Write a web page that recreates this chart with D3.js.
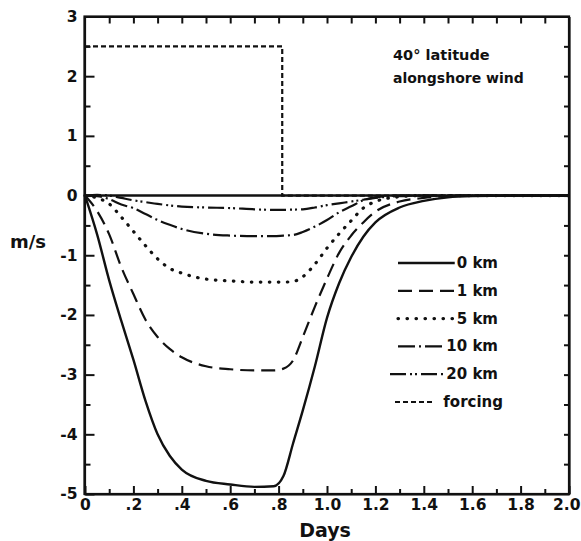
<!DOCTYPE html>
<html>
<head>
<meta charset="utf-8">
<script src="https://cdn.jsdelivr.net/npm/d3@7"></script>
<style>
  html, body { margin: 0; padding: 0; background: #fff; }
  svg { display: block; }
  text { font-family: "DejaVu Sans", sans-serif; fill: #111; }
</style>
</head>
<body>
<svg id="chart" width="581" height="541"></svg>
<script>
// ---- data ----
const days = [0,0.05,0.1,0.15,0.2,0.25,0.3,0.35,0.4,0.5,0.6,0.7,0.78,0.82,0.86,0.9,0.95,1.0,1.05,1.1,1.15,1.2,1.3,1.4,1.5,1.6,1.8,2.0];
const km0  = [0,-0.65,-1.42,-2.1,-2.75,-3.44,-4.0,-4.36,-4.59,-4.78,-4.84,-4.88,-4.87,-4.7,-4.15,-3.6,-2.86,-2.05,-1.47,-1.03,-0.69,-0.45,-0.2,-0.09,-0.03,-0.01,0,0];
const km1  = [0,-0.26,-0.65,-1.2,-1.65,-2.08,-2.37,-2.57,-2.71,-2.86,-2.91,-2.93,-2.93,-2.9,-2.76,-2.37,-1.86,-1.39,-0.96,-0.67,-0.45,-0.27,-0.1,-0.04,-0.01,0,0,0];
const km5  = [0,-0.04,-0.14,-0.36,-0.6,-0.84,-1.06,-1.22,-1.3,-1.4,-1.43,-1.45,-1.45,-1.45,-1.44,-1.36,-1.15,-0.88,-0.64,-0.42,-0.21,-0.1,-0.02,0,0,0,0,0];
const km10 = [0,-0.01,-0.06,-0.15,-0.21,-0.31,-0.41,-0.49,-0.56,-0.64,-0.67,-0.68,-0.68,-0.67,-0.66,-0.61,-0.52,-0.41,-0.28,-0.18,-0.08,-0.03,0,0,0,0,0,0];
const km20 = [0,0.01,0,-0.04,-0.08,-0.11,-0.14,-0.165,-0.185,-0.2,-0.21,-0.23,-0.24,-0.24,-0.235,-0.23,-0.2,-0.16,-0.13,-0.1,-0.07,-0.04,-0.01,0,0,0,0,0];
const forcingDays   = [0, 0.815, 0.815, 2.0];
const forcingValues = [2.5, 2.5, 0, 0];
const seriesNames = ["0 km", "1 km", "5 km", "10 km", "20 km", "forcing"];
const xTicks = [0,0.2,0.4,0.6,0.8,1.0,1.2,1.4,1.6,1.8,2.0];
const xTickLabels = ["0",".2",".4",".6",".8","1.0","1.2","1.4","1.6","1.8","2.0"];
const yTicks = [3,2,1,0,-1,-2,-3,-4,-5];
const yTickLabels = ["3","2","1","0","-1","-2","-3","-4","-5"];
const annotation = ["40° latitude", "alongshore wind"];
const xTitle = "Days";
const yTitle = "m/s";

// ---- layout ----
const svg = d3.select("#chart");
const L = 84.5, R = 569, T = 16.5, B = 494;
const x = d3.scaleLinear().domain([0, 2]).range([L + 0.5, R]);
const y = d3.scaleLinear().domain([-5, 3]).range([B, T]);

const styles = [
  { dash: null,               width: 2.4, cap: "butt" },
  { dash: "14,7",             width: 2.2, cap: "butt" },
  { dash: "0.5,8.5",          width: 3.2, cap: "round" },
  { dash: "17,4,2,4",         width: 2.2, cap: "butt" },
  { dash: "16,4,2,3,2,4",     width: 2.2, cap: "butt" },
  { dash: "5,3",              width: 2.2, cap: "butt" }
];

// zero reference line
svg.append("line")
  .attr("x1", x(0)).attr("x2", x(2)).attr("y1", y(0)).attr("y2", y(0))
  .attr("stroke", "#111").attr("stroke-width", 2.4);

const line = d3.line().x(d => x(d[0])).y(d => y(d[1])).curve(d3.curveMonotoneX);
const lineLin = d3.line().x(d => x(d[0])).y(d => y(d[1]));

const seriesVals = [km0, km1, km5, km10, km20];
seriesVals.forEach((vals, i) => {
  const pts = days.map((d, j) => [d, vals[j]]);
  const st = styles[i];
  svg.append("path").attr("d", line(pts))
    .attr("fill", "none").attr("stroke", "#111")
    .attr("stroke-width", st.width)
    .attr("stroke-dasharray", st.dash)
    .attr("stroke-linecap", st.cap)
    .attr("stroke-linejoin", "round");
});
svg.append("path").attr("d", lineLin(forcingDays.map((d, j) => [d, forcingValues[j]])))
  .attr("fill", "none").attr("stroke", "#111")
  .attr("stroke-width", styles[5].width)
  .attr("stroke-dasharray", styles[5].dash);

// ---- axes ----
function styleAxis(g, w) {
  g.selectAll("path.domain").attr("stroke", "#111").attr("stroke-width", w);
  g.selectAll(".tick line").attr("stroke", "#111").attr("stroke-width", 2);
}
function styleLabels(g) {
  g.selectAll("text").attr("font-size", 15.5).attr("font-family", "DejaVu Sans")
    .attr("font-weight", "bold").attr("fill", "#111");
}
// left major
const gl = svg.append("g").attr("transform", `translate(${L},0)`)
  .call(d3.axisLeft(y).tickValues(yTicks).tickSize(-10).tickSizeOuter(0).tickPadding(7)
    .tickFormat((d, i) => yTickLabels[i]));
styleAxis(gl, 2.2); styleLabels(gl);
// left minor
const glm = svg.append("g").attr("transform", `translate(${L},0)`)
  .call(d3.axisLeft(y).tickValues(d3.range(-4.5, 3, 1)).tickSize(-6).tickSizeOuter(0).tickFormat(""));
styleAxis(glm, 0); glm.select("path.domain").remove();
// right
const gr = svg.append("g").attr("transform", `translate(${R},0)`)
  .call(d3.axisRight(y).tickValues(d3.range(-4.5, 3, 0.5)).tickSize(-5).tickSizeOuter(0).tickFormat(""));
styleAxis(gr, 2.2);
// top
const gt = svg.append("g").attr("transform", `translate(0,${T})`)
  .call(d3.axisTop(x).tickValues(d3.range(0.1, 2, 0.1)).tickSize(-7).tickSizeOuter(0).tickFormat(""));
styleAxis(gt, 2.2);
// bottom major
const gb = svg.append("g").attr("transform", `translate(0,${B})`)
  .call(d3.axisBottom(x).tickValues(xTicks).tickSize(-8).tickSizeOuter(0).tickPadding(5)
    .tickFormat((d, i) => xTickLabels[i]));
styleAxis(gb, 2.2); styleLabels(gb);
// keep the last label inside the window
gb.selectAll(".tick text").filter(d => d === 2.0).attr("text-anchor", "end").attr("x", 11);
// bottom minor
const gbm = svg.append("g").attr("transform", `translate(0,${B})`)
  .call(d3.axisBottom(x).tickValues(d3.range(0.1, 2, 0.2)).tickSize(-5).tickSizeOuter(0).tickFormat(""));
styleAxis(gbm, 0); gbm.select("path.domain").remove();

// full frame
svg.append("rect").attr("x", L).attr("y", T).attr("width", R - L).attr("height", B - T)
  .attr("fill", "none").attr("stroke", "#111").attr("stroke-width", 2.2);

// titles
svg.append("text").attr("x", (x(0) + x(2)) / 2 - 2).attr("y", 537).attr("text-anchor", "middle")
  .attr("font-size", 19).style("font-weight", "600").text(xTitle);
svg.append("text").attr("x", 10).attr("y", 248).attr("font-size", 18).style("font-weight", "600").text(yTitle);

// annotation
svg.append("text").attr("x", 393).attr("y", 60).attr("font-size", 14.5).style("font-weight", "bold").text(annotation[0]);
svg.append("text").attr("x", 393).attr("y", 83).attr("font-size", 14).style("font-weight", "bold").text(annotation[1]);

// legend
seriesNames.forEach((name, i) => {
  const ry = 263 + i * 27.8;
  const isForcing = i === 5;
  const t = svg.append("text").attr("x", isForcing ? 503 : 498).attr("y", ry + 5)
    .attr("text-anchor", "end").attr("font-size", 15).style("font-weight", "bold").text(name);
  const tl = t.node().getComputedTextLength();
  const tx = (isForcing ? 503 : 498) - tl;
  const x1 = i === 4 ? 390 : (isForcing ? 395 : 398);
  const x2 = isForcing ? tx - 9 : tx - 2;
  const st = styles[i];
  svg.append("line").attr("x1", x1).attr("x2", x2).attr("y1", ry).attr("y2", ry)
    .attr("stroke", "#111").attr("stroke-width", st.width)
    .attr("stroke-dasharray", st.dash).attr("stroke-linecap", st.cap);
});
</script>
</body>
</html>
